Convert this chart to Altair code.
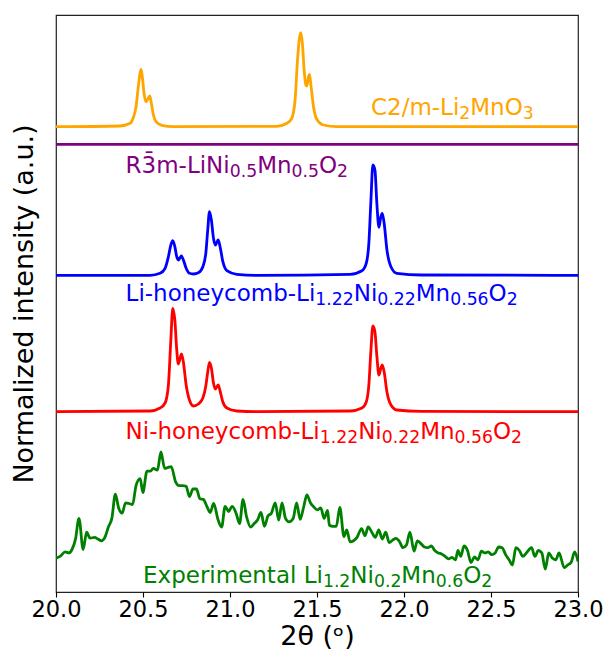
import altair as alt
import pandas as pd

# ---- simulated and measured XRD patterns (2theta in degrees, stacked intensity in a.u.) ----
ORANGE_T = [20.0, 20.368, 20.426, 20.445, 20.460, 20.473, 20.483, 20.489, 20.496, 20.506,
            20.516, 20.527, 20.539, 20.548, 20.560, 20.575, 20.608, 20.675, 21.269, 21.327,
            21.355, 21.374, 21.388, 21.399, 21.407, 21.416, 21.426, 21.436, 21.442, 21.451,
            21.457, 21.466, 21.480, 21.499, 21.537, 21.614, 23.0]
ORANGE_I = [4.668, 4.675, 4.702, 4.762, 4.868, 5.068, 5.202, 5.242, 5.168, 5.002,
            4.918, 4.942, 4.975, 4.902, 4.785, 4.718, 4.682, 4.668, 4.672, 4.702,
            4.752, 4.935, 5.335, 5.552, 5.608, 5.502, 5.235, 5.085, 5.075, 5.168,
            5.192, 5.068, 4.868, 4.742, 4.685, 4.668, 4.668]

PURPLE_T = [20.0, 23.0]
PURPLE_I = [4.492, 4.492]

HONEYCOMB_T = [20.0, 20.541, 20.598, 20.627, 20.646, 20.660, 20.671, 20.683, 20.694, 20.703,
               20.721, 20.732, 20.748, 20.767, 20.790, 20.818, 20.844, 20.861, 20.872, 20.882,
               20.893, 20.905, 20.916, 20.932, 20.943, 20.959, 20.982, 21.039, 21.154, 21.691,
               21.758, 21.783, 21.798, 21.810, 21.821, 21.833, 21.844, 21.856, 21.867, 21.875,
               21.886, 21.902, 21.925, 21.959, 22.1, 23.0]
BLUE_I = [3.182, 3.182, 3.202, 3.252, 3.368, 3.485, 3.528, 3.468, 3.368, 3.335,
          3.375, 3.335, 3.252, 3.202, 3.195, 3.208, 3.268, 3.402, 3.635, 3.818,
          3.735, 3.552, 3.485, 3.535, 3.468, 3.318, 3.228, 3.192, 3.182, 3.192,
          3.228, 3.302, 3.502, 3.935, 4.285, 4.235, 3.902, 3.662, 3.768, 3.802,
          3.702, 3.435, 3.268, 3.202, 3.185, 3.182]
RED_I = [1.818, 1.825, 1.855, 1.905, 2.085, 2.535, 2.852, 2.735, 2.435, 2.295,
         2.395, 2.315, 2.085, 1.935, 1.875, 1.895, 1.955, 2.075, 2.215, 2.312,
         2.255, 2.105, 2.045, 2.085, 2.025, 1.915, 1.855, 1.825, 1.818, 1.825,
         1.855, 1.915, 2.085, 2.435, 2.675, 2.615, 2.375, 2.185, 2.255, 2.285,
         2.215, 2.015, 1.885, 1.835, 1.822, 1.818]

GREEN_T = [20.000, 20.023, 20.053, 20.073, 20.092, 20.112, 20.132, 20.156, 20.176, 20.196,
           20.222, 20.241, 20.261, 20.281, 20.301, 20.321, 20.341, 20.360, 20.380, 20.400,
           20.420, 20.440, 20.460, 20.484, 20.499, 20.523, 20.543, 20.559, 20.583, 20.603,
           20.624, 20.642, 20.662, 20.688, 20.708, 20.728, 20.748, 20.767, 20.787, 20.807,
           20.827, 20.847, 20.867, 20.886, 20.906, 20.932, 20.952, 20.972, 20.992, 21.012,
           21.035, 21.055, 21.075, 21.095, 21.119, 21.139, 21.158, 21.178, 21.198, 21.218,
           21.238, 21.260, 21.280, 21.299, 21.319, 21.339, 21.363, 21.383, 21.403, 21.422,
           21.442, 21.462, 21.482, 21.502, 21.522, 21.541, 21.561, 21.571, 21.591, 21.611,
           21.631, 21.655, 21.671, 21.690, 21.710, 21.730, 21.756, 21.776, 21.794, 21.815,
           21.835, 21.855, 21.875, 21.895, 21.915, 21.935, 21.954, 21.974, 21.994, 22.014,
           22.034, 22.058, 22.077, 22.097, 22.117, 22.137, 22.157, 22.177, 22.197, 22.216,
           22.236, 22.256, 22.276, 22.296, 22.310, 22.326, 22.345, 22.365, 22.385, 22.405,
           22.425, 22.445, 22.465, 22.484, 22.504, 22.524, 22.544, 22.564, 22.584, 22.604,
           22.623, 22.643, 22.663, 22.683, 22.703, 22.733, 22.752, 22.772, 22.792, 22.812,
           22.832, 22.852, 22.872, 22.891, 22.921, 22.941, 22.961, 22.981, 23.000]
GREEN_I = [0.354, 0.371, 0.416, 0.406, 0.440, 0.544, 0.751, 0.440, 0.613, 0.554,
           0.561, 0.544, 0.527, 0.561, 0.665, 0.751, 0.993, 0.855, 0.803, 0.907,
           0.900, 0.889, 1.079, 1.148, 1.010, 1.224, 1.224, 1.252, 1.234, 1.417,
           1.252, 1.259, 1.269, 1.114, 1.079, 1.079, 1.072, 0.969, 1.045, 1.045,
           0.948, 0.941, 0.872, 0.810, 0.900, 0.734, 0.665, 0.872, 0.820, 0.872,
           0.803, 0.699, 0.941, 0.768, 0.665, 0.699, 0.734, 0.810, 0.672, 0.775,
           0.803, 0.907, 0.734, 0.907, 0.751, 0.717, 0.751, 0.907, 0.741, 0.855,
           0.986, 0.907, 0.865, 0.837, 0.855, 0.751, 0.831, 0.682, 0.672, 0.672,
           0.862, 0.568, 0.637, 0.516, 0.527, 0.561, 0.648, 0.578, 0.665, 0.613,
           0.561, 0.637, 0.544, 0.613, 0.510, 0.534, 0.551, 0.520, 0.458, 0.485,
           0.613, 0.423, 0.527, 0.499, 0.465, 0.458, 0.475, 0.430, 0.406, 0.396,
           0.371, 0.347, 0.361, 0.337, 0.430, 0.371, 0.475, 0.430, 0.309, 0.365,
           0.337, 0.423, 0.406, 0.416, 0.389, 0.406, 0.465, 0.458, 0.389, 0.337,
           0.285, 0.458, 0.430, 0.371, 0.406, 0.458, 0.371, 0.430, 0.406, 0.244,
           0.406, 0.354, 0.337, 0.406, 0.258, 0.285, 0.313, 0.416, 0.320]

SERIES = ["C2/m", "R-3m", "Li-honeycomb", "Ni-honeycomb", "Experimental"]
COLORS = ["orange", "purple", "blue", "red", "green"]
CURVES = [(ORANGE_T, ORANGE_I), (PURPLE_T, PURPLE_I), (HONEYCOMB_T, BLUE_I),
          (HONEYCOMB_T, RED_I), (GREEN_T, GREEN_I)]

# Labels: (anchor 2theta, anchor intensity, series, [(fragment, is_subscript), ...])
LABELS = [
    (21.81, 4.785, "C2/m", [("C2/m-Li", 0), ("2", 1), ("MnO", 0), ("3", 1)]),
    (20.40, 4.202, "R-3m", [("R3\u0304m-LiNi", 0), ("0.5", 1), ("Mn", 0), ("0.5", 1), ("O", 0), ("2", 1)]),
    (20.40, 2.925, "Li-honeycomb", [("Li-honeycomb-Li", 0), ("1.22", 1), ("Ni", 0), ("0.22", 1),
                                    ("Mn", 0), ("0.56", 1), ("O", 0), ("2", 1)]),
    (20.40, 1.545, "Ni-honeycomb", [("Ni-honeycomb-Li", 0), ("1.22", 1), ("Ni", 0), ("0.22", 1),
                                    ("Mn", 0), ("0.56", 1), ("O", 0), ("2", 1)]),
    (20.50, 0.105, "Experimental", [("Experimental Li", 0), ("1.2", 1), ("Ni", 0), ("0.2", 1),
                                    ("Mn", 0), ("0.6", 1), ("O", 0), ("2", 1)]),
]

FONT = "DejaVu Sans"
MAIN_SIZE = 23
SUB_SIZE = MAIN_SIZE * 0.75
SUB_DROP = 3.5

# DejaVu Sans advance widths (em) used to chain the label fragments
EM = {"C": .698, "E": .632, "L": .557, "M": .863, "N": .748, "O": .787, "R": .695,
      "a": .613, "b": .635, "c": .550, "e": .615, "h": .634, "i": .278, "l": .278,
      "m": .974, "n": .634, "o": .612, "p": .635, "r": .411, "t": .392, "x": .592,
      "y": .592, ".": .318, "-": .361, "/": .337, " ": .318, "\u0304": 0.0}
for d in "0123456789":
    EM[d] = .636


def text_width(s, size):
    return sum(EM.get(ch, 0.6) for ch in s) * size


color_scale = alt.Scale(domain=SERIES, range=COLORS)
x_scale = alt.Scale(domain=[20, 23], nice=False, zero=False)
y_scale = alt.Scale(domain=[0.015, 5.785], nice=False, zero=False)

x_axis = alt.Axis(values=[20.0, 20.5, 21.0, 21.5, 22.0, 22.5, 23.0], format=".1f",
                  title="2θ (ᵒ)", labelFont=FONT, titleFont=FONT,
                  labelFontSize=22.5, titleFontSize=27, titleFontWeight="normal",
                  labelColor="black", titleColor="black", tickColor="black",
                  tickSize=5, tickWidth=1.1, domain=False, grid=False,
                  labelFlush=False, labelOverlap=False, labelBound=False,
                  labelPadding=1, titlePadding=3)
y_axis = alt.Axis(title="Normalized intensity (a.u.)", titleFont=FONT,
                  titleFontSize=27, titleFontWeight="normal", titleColor="black",
                  ticks=False, labels=False, domain=False, grid=False,
                  titlePadding=18)

rows = []
for name, (ts, vs) in zip(SERIES, CURVES):
    for k, (t, v) in enumerate(zip(ts, vs)):
        rows.append({"series": name, "theta": t, "intensity": v, "k": k})
curves = pd.DataFrame(rows)

lines = alt.Chart(curves).mark_line(strokeWidth=2.8, interpolate="monotone", clip=True).encode(
    x=alt.X("theta:Q", scale=x_scale, axis=x_axis),
    y=alt.Y("intensity:Q", scale=y_scale, axis=y_axis),
    color=alt.Color("series:N", scale=color_scale, legend=None),
    order="k:Q",
)

layers = [lines]
for t0, v0, name, parts in LABELS:
    color = COLORS[SERIES.index(name)]
    offset = 0.0
    for frag, is_sub in parts:
        size = SUB_SIZE if is_sub else MAIN_SIZE
        df = pd.DataFrame({"theta": [t0], "intensity": [v0], "txt": [frag]})
        layers.append(
            alt.Chart(df).mark_text(
                align="left", baseline="alphabetic", font=FONT, fontSize=size,
                color=color, dx=offset, dy=SUB_DROP if is_sub else 0,
            ).encode(
                x=alt.X("theta:Q", scale=x_scale, axis=x_axis),
                y=alt.Y("intensity:Q", scale=y_scale, axis=y_axis),
                text="txt:N",
            )
        )
        offset += text_width(frag, size)

chart = alt.layer(*layers).properties(
    width=522, height=577,
    autosize=alt.AutoSizeParams(type="none"),
    padding={"left": 56, "top": 15, "right": 27, "bottom": 63},
    background="white",
).configure_view(stroke="#222222", strokeWidth=1.2)

chart.save("out.html", embed_options={"renderer": "svg", "actions": False})
